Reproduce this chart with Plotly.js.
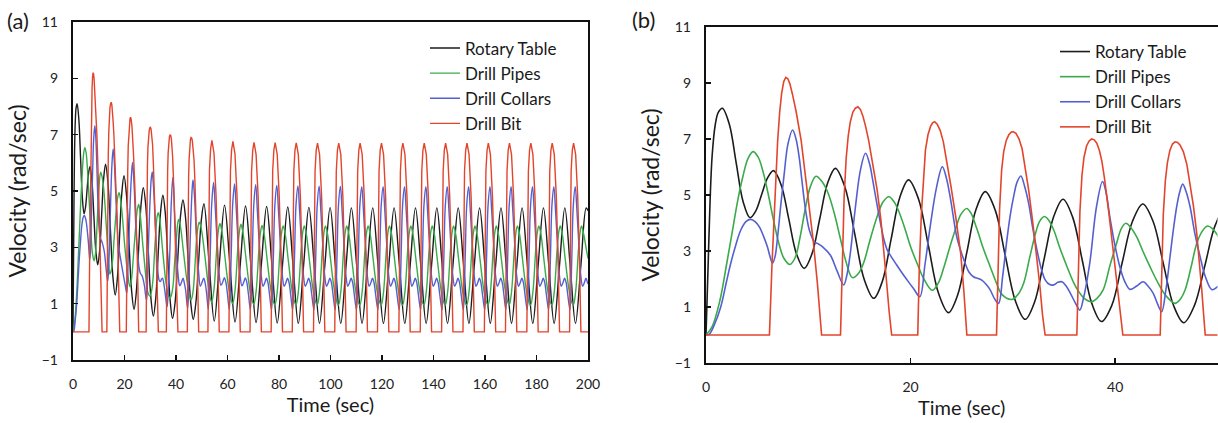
<!DOCTYPE html>
<html>
<head>
<meta charset="utf-8">
<script src="https://cdn.plot.ly/plotly-3.0.1.min.js"></script>
<style>html,body{margin:0;padding:0;background:#fff;}#chart{width:1218px;height:423px;}</style>
</head>
<body>
<div id="chart"></div>
<script>
// ---- Data: [time (sec), velocity (rad/sec)] ----
const seriesNames = ['Rotary Table', 'Drill Pipes', 'Drill Collars', 'Drill Bit'];

const rotaryTable = [
[0,0],[0.2,2.4],[0.4,4.8],[0.6,6.4],[0.9,7.5],[1.2,7.95],[1.6,8.1],[2.28,7.53],[2.95,6.15],[3.63,4.76],[4.3,4.19],[4.88,4.44],[5.45,5.03],[6.03,5.62],[6.6,5.87],[7.35,5.36],[8.1,4.13],[8.85,2.89],[9.6,2.38],[10.36,2.9],[11.13,4.17],[11.89,5.43],[12.65,5.95],[13.59,5.27],[14.53,3.63],[15.46,1.99],[16.4,1.31],[17.25,1.93],[18.1,3.43],[18.95,4.92],[19.8,5.54],[20.78,4.85],[21.75,3.17],[22.73,1.49],[23.7,0.8],[24.6,1.43],[25.5,2.96],[26.4,4.49],[27.3,5.12],[28.28,4.45],[29.25,2.84],[30.23,1.23],[31.2,0.56],[32.13,1.19],[33.05,2.71],[33.98,4.22],[34.9,4.85],[35.84,4.21],[36.78,2.67],[37.72,1.12],[38.66,0.48],[39.67,1.06],[40.68,2.58],[41.69,4.06],[42.7,4.68],[43.7,4.06],[44.7,2.56],[45.7,1.06],[46.7,0.44],[47.74,1.05],[48.78,2.5],[49.81,3.95],[50.85,4.55],
[52.85,2.46],[54.85,0.38],[56.85,2.44],[58.85,4.5],[60.9,2.42],[62.93,0.35],[64.97,2.41],[67.0,4.47],[69.05,2.4],[71.1,0.33],[73.15,2.39],[75.2,4.45],[77.25,2.38],[79.3,0.31],[81.35,2.37],[83.4,4.43],[85.45,2.37],[87.5,0.3],[89.55,2.36],[91.6,4.42],[93.67,2.36],[95.73,0.3],[97.8,2.36],[99.85,4.41],[101.9,2.35],[103.98,0.3],[106.04,2.35],[108.1,4.4],[110.18,2.35],[112.25,0.3],[114.33,2.35],[116.4,4.4],[118.48,2.35],[120.55,0.3],[122.63,2.35],[124.7,4.4],[126.78,2.35],[128.85,0.3],[130.93,2.35],[133.0,4.4],[135.08,2.35],[137.15,0.3],[139.23,2.35],[141.3,4.4],[143.38,2.35],[145.45,0.3],[147.53,2.35],[149.6,4.4],[151.68,2.35],[153.75,0.3],[155.83,2.35],[157.9,4.4],[159.98,2.35],[162.05,0.3],[164.13,2.35],[166.2,4.4],[168.25,2.35],[170.3,0.3],[172.35,2.35],[174.4,4.4],[176.48,2.35],[178.55,0.3],[180.63,2.35],[182.7,4.4],[184.78,2.35],[186.85,0.3],[188.93,2.35],[191.0,4.4],[193.08,2.35],[195.15,0.3],[197.23,2.35],[199.3,4.4],[200,4.3]
];

const drillPipes = [
[0,0],[0.6,0.3],[1.37,1.25],[2.0,2.5],[2.55,3.65],[3.1,4.8],[3.6,5.65],[4.1,6.3],[4.6,6.55],[5.1,6.35],[5.6,5.8],[6.1,5.0],[6.6,4.1],[7.1,3.3],[7.6,2.75],[8.2,2.52],[8.7,2.75],[9.2,3.5],[9.7,4.5],[10.2,5.3],[10.75,5.67],[11.3,5.5],[11.9,5.1],[12.5,4.4],[13.1,3.5],[13.7,2.6],[14.3,2.05],[14.9,2.2],[15.43,2.6],[16.0,3.35],[16.73,4.23],[17.3,4.75],[17.88,4.94],[18.4,4.75],[18.86,4.4],[19.4,3.85],[20.0,3.15],[20.7,2.5],[21.3,2.0],[22.12,1.6],[22.7,1.85],[23.27,2.44],[23.8,3.1],[24.41,3.8],[24.9,4.3],[25.49,4.52],[25.9,4.35],[26.47,3.8],[27.1,3.1],[27.78,2.44],[28.4,1.85],[28.92,1.45],[29.9,1.27],[30.5,1.45],[31.05,1.85],[31.6,2.7],[32.19,3.6],[32.6,4.05],[33.07,4.23],[33.5,4.1],[33.99,3.75],[34.6,3.1],[35.29,2.44],[35.9,1.9],[36.44,1.55],[37.0,1.3],[37.68,1.19],[38.2,1.3],[38.82,1.61],[39.5,2.5],[40.13,3.27],[40.6,3.8],[41.04,3.99],[41.5,3.85],[42.09,3.51],[42.7,3.0],[43.4,2.44],[44.2,1.85],[45.03,1.37],[45.85,1.13],[46.3,1.25],[46.83,1.61],[47.4,2.4],[47.97,3.27],[48.5,3.7],[49.02,3.89],[49.5,3.8],[50.1,3.51],[51.15,2.75],[52.4,1.75],[53.3,1.2],
[53.85,1.05],[54.75,1.5],[55.85,3.0],[56.45,3.6],[57.05,3.85],[57.85,3.55],[58.95,2.7],[60.25,1.7],[61.25,1.2],
[62.0,1.0],[62.9,1.45],[64.0,2.95],[64.6,3.55],[65.2,3.82],[66.0,3.52],[67.1,2.67],[68.4,1.67],[69.4,1.17],
[70.2,0.97],[71.1,1.43],[72.2,2.93],[72.8,3.53],[73.4,3.78],[74.2,3.49],[75.3,2.64],[76.6,1.64],[77.6,1.14],
[78.4,0.95],[79.3,1.42],[80.4,2.92],[81.0,3.52],[81.6,3.76],[82.4,3.48],[83.5,2.63],[84.8,1.63],[85.8,1.13],
[86.6,0.95],[87.5,1.42],[88.6,2.92],[89.2,3.52],[89.8,3.76],[90.6,3.48],[91.7,2.63],[93.0,1.63],[94.0,1.13],
[94.85,0.95],[95.75,1.42],[96.85,2.92],[97.45,3.52],[98.05,3.76],[98.85,3.48],[99.95,2.63],[101.25,1.63],[102.25,1.13],
[103.1,0.95],[104.0,1.42],[105.1,2.92],[105.7,3.52],[106.3,3.76],[107.1,3.48],[108.2,2.63],[109.5,1.63],[110.5,1.13],
[111.4,0.95],[112.3,1.42],[113.4,2.92],[114.0,3.52],[114.6,3.76],[115.4,3.48],[116.5,2.63],[117.8,1.63],[118.8,1.13],
[119.7,0.95],[120.6,1.42],[121.7,2.92],[122.3,3.52],[122.9,3.76],[123.7,3.48],[124.8,2.63],[126.1,1.63],[127.1,1.13],
[128.0,0.95],[128.9,1.42],[130.0,2.92],[130.6,3.52],[131.2,3.76],[132.0,3.48],[133.1,2.63],[134.4,1.63],[135.4,1.13],
[136.3,0.95],[137.2,1.42],[138.3,2.92],[138.9,3.52],[139.5,3.76],[140.3,3.48],[141.4,2.63],[142.7,1.63],[143.7,1.13],
[144.6,0.95],[145.5,1.42],[146.6,2.92],[147.2,3.52],[147.8,3.76],[148.6,3.48],[149.7,2.63],[151.0,1.63],[152.0,1.13],
[152.9,0.95],[153.8,1.42],[154.9,2.92],[155.5,3.52],[156.1,3.76],[156.9,3.48],[158.0,2.63],[159.3,1.63],[160.3,1.13],
[161.2,0.95],[162.1,1.42],[163.2,2.92],[163.8,3.52],[164.4,3.76],[165.2,3.48],[166.3,2.63],[167.6,1.63],[168.6,1.13],
[169.4,0.95],[170.3,1.42],[171.4,2.92],[172.0,3.52],[172.6,3.76],[173.4,3.48],[174.5,2.63],[175.8,1.63],[176.8,1.13],
[177.7,0.95],[178.6,1.42],[179.7,2.92],[180.3,3.52],[180.9,3.76],[181.7,3.48],[182.8,2.63],[184.1,1.63],[185.1,1.13],
[186.0,0.95],[186.9,1.42],[188.0,2.92],[188.6,3.52],[189.2,3.76],[190.0,3.48],[191.1,2.63],[192.4,1.63],[193.4,1.13],
[194.3,0.95],[195.2,1.42],[196.3,2.92],[196.9,3.52],[197.5,3.76],[198.3,3.48],[199.4,2.9],[200,2.6]
];

const drillCollars = [
[0,0],[0.3,0.02],[0.8,0.35],[1.44,1.0],[2.0,1.9],[2.42,2.56],[2.9,3.2],[3.4,3.75],[3.9,4.05],[4.38,4.13],[4.8,4.05],[5.2,3.87],[5.6,3.55],[6.0,3.15],[6.3,2.75],[6.5,2.56],[6.75,2.8],[7.0,3.51],[7.3,4.6],[7.65,5.77],[8.0,6.8],[8.46,7.32],[8.8,7.0],[9.1,6.37],[9.35,5.6],[9.6,4.82],[9.85,4.2],[10.1,3.75],[10.59,3.33],[11.0,3.25],[11.4,3.15],[12.16,2.85],[12.8,2.3],[13.46,1.79],[13.75,2.1],[14.1,2.9],[14.61,4.58],[15.1,5.9],[15.59,6.49],[16.0,6.1],[16.24,5.65],[16.65,4.8],[17.06,3.99],[17.4,3.4],[17.71,3.04],[18.1,2.8],[18.53,2.56],[19.1,2.25],[19.67,1.96],[20.3,1.65],[20.9,1.37],[21.4,2.5],[21.96,3.99],[22.55,5.3],[23.1,6.01],[23.5,5.6],[23.92,4.82],[24.51,3.51],[25.0,2.9],[25.33,2.56],[25.7,2.25],[26.14,2.08],[26.6,2.02],[26.96,1.96],[27.4,1.8],[27.78,1.61],[28.2,1.3],[28.6,1.13],[29.0,2.1],[29.41,3.39],[29.75,4.3],[30.07,4.94],[30.4,5.45],[30.78,5.68],[31.15,5.3],[31.54,4.7],[31.95,3.8],[32.35,3.04],[32.75,2.4],[33.17,1.96],[33.6,1.8],[33.99,1.79],[34.4,1.88],[34.8,1.9],[35.2,1.75],[35.62,1.49],[36.1,1.15],[36.54,0.89],[36.86,1.25],[37.51,2.56],[38.17,4.58],[38.76,5.48],[39.1,5.1],[39.47,4.23],[39.95,3.25],[40.45,2.44],[40.95,1.9],[41.44,1.63],[42.1,1.75],[42.74,1.9],[43.2,1.75],[43.72,1.49],[44.15,1.1],[44.54,0.83],[44.95,1.6],[45.36,2.8],[45.7,3.8],[46.01,4.58],[46.3,5.1],[46.6,5.39],[46.95,5.1],[47.32,4.58],[47.8,3.6],[48.3,2.8],[48.8,2.1],[49.45,1.62],[50.1,1.75],[50.75,1.9],[51.3,1.75],[51.85,1.4],[52.55,0.8],
[53.25,2.6],[53.85,4.5],[54.6,5.3],[55.25,4.4],[56.05,3.05],[56.75,2.05],[57.45,1.65],[58.15,1.77],[58.75,1.92],[59.35,1.77],[59.95,1.37],
[60.7,0.79],[61.4,2.6],[62.0,4.5],[62.75,5.25],[63.4,4.35],[64.2,3.0],[64.9,2.0],[65.6,1.63],[66.3,1.76],[66.9,1.91],[67.5,1.76],[68.1,1.36],
[68.9,0.78],[69.6,2.6],[70.2,4.5],[70.95,5.22],[71.6,4.3],[72.4,3.0],[73.1,2.0],[73.8,1.62],[74.5,1.75],[75.1,1.9],[75.7,1.75],[76.3,1.35],
[77.1,0.78],[77.8,2.6],[78.4,4.5],[79.15,5.2],[79.8,4.3],[80.6,3.0],[81.3,2.0],[82.0,1.62],[82.7,1.75],[83.3,1.9],[83.9,1.75],[84.5,1.35],
[85.3,0.78],[86.0,2.6],[86.6,4.5],[87.35,5.18],[88.0,4.3],[88.8,3.0],[89.5,2.0],[90.2,1.62],[90.9,1.75],[91.5,1.9],[92.1,1.75],[92.7,1.35],
[93.55,0.78],[94.25,2.6],[94.85,4.5],[95.6,5.17],[96.25,4.3],[97.05,3.0],[97.75,2.0],[98.45,1.62],[99.15,1.75],[99.75,1.9],[100.35,1.75],[100.95,1.35],
[101.8,0.78],[102.5,2.6],[103.1,4.5],[103.85,5.16],[104.5,4.3],[105.3,3.0],[106.0,2.0],[106.7,1.62],[107.4,1.75],[108.0,1.9],[108.6,1.75],[109.2,1.35],
[110.1,0.78],[110.8,2.6],[111.4,4.5],[112.15,5.15],[112.8,4.3],[113.6,3.0],[114.3,2.0],[115.0,1.62],[115.7,1.75],[116.3,1.9],[116.9,1.75],[117.5,1.35],
[118.4,0.78],[119.1,2.6],[119.7,4.5],[120.45,5.15],[121.1,4.3],[121.9,3.0],[122.6,2.0],[123.3,1.62],[124.0,1.75],[124.6,1.9],[125.2,1.75],[125.8,1.35],
[126.7,0.78],[127.4,2.6],[128.0,4.5],[128.75,5.15],[129.4,4.3],[130.2,3.0],[130.9,2.0],[131.6,1.62],[132.3,1.75],[132.9,1.9],[133.5,1.75],[134.1,1.35],
[135.0,0.78],[135.7,2.6],[136.3,4.5],[137.05,5.15],[137.7,4.3],[138.5,3.0],[139.2,2.0],[139.9,1.62],[140.6,1.75],[141.2,1.9],[141.8,1.75],[142.4,1.35],
[143.3,0.78],[144.0,2.6],[144.6,4.5],[145.35,5.15],[146.0,4.3],[146.8,3.0],[147.5,2.0],[148.2,1.62],[148.9,1.75],[149.5,1.9],[150.1,1.75],[150.7,1.35],
[151.6,0.78],[152.3,2.6],[152.9,4.5],[153.65,5.15],[154.3,4.3],[155.1,3.0],[155.8,2.0],[156.5,1.62],[157.2,1.75],[157.8,1.9],[158.4,1.75],[159.0,1.35],
[159.9,0.78],[160.6,2.6],[161.2,4.5],[161.95,5.15],[162.6,4.3],[163.4,3.0],[164.1,2.0],[164.8,1.62],[165.5,1.75],[166.1,1.9],[166.7,1.75],[167.3,1.35],
[168.1,0.78],[168.8,2.6],[169.4,4.5],[170.15,5.15],[170.8,4.3],[171.6,3.0],[172.3,2.0],[173.0,1.62],[173.7,1.75],[174.3,1.9],[174.9,1.75],[175.5,1.35],
[176.4,0.78],[177.1,2.6],[177.7,4.5],[178.45,5.15],[179.1,4.3],[179.9,3.0],[180.6,2.0],[181.3,1.62],[182.0,1.75],[182.6,1.9],[183.2,1.75],[183.8,1.35],
[184.7,0.78],[185.4,2.6],[186.0,4.5],[186.75,5.15],[187.4,4.3],[188.2,3.0],[188.9,2.0],[189.6,1.62],[190.3,1.75],[190.9,1.9],[191.5,1.75],[192.1,1.35],
[193.0,0.78],[193.7,2.6],[194.3,4.5],[195.05,5.15],[195.7,4.3],[196.5,3.0],[197.2,2.0],[197.9,1.62],[198.6,1.75],[199.2,1.9],[199.8,1.75],[200,1.7]
];

const drillBit = [
[0,0],[6.2,0],[6.45,2.5],[6.75,5.0],[7.0,6.9],[7.2,7.95],[7.4,8.65],[7.6,9.05],[7.8,9.2],[8.0,9.15],[8.2,8.97],[8.45,8.6],[8.8,8.0],[9.3,6.95],[9.9,5.2],[10.5,3.3],[10.9,1.8],[11.15,0.6],[11.3,0],
[13.15,0],[13.3,2.6],[13.5,4.9],[13.7,6.3],[13.9,7.1],[14.1,7.6],[14.35,7.95],[14.6,8.1],[14.85,8.15],[15.1,8.05],[15.35,7.8],[15.6,7.45],[15.9,6.95],[16.25,6.2],[16.73,5.18],[17.1,4.1],[17.39,3.04],[17.65,1.9],[17.9,0.85],[18.15,0],
[20.7,0],[20.85,2.4],[21.05,4.3],[21.25,5.7],[21.45,6.6],[21.7,7.15],[21.95,7.45],[22.15,7.58],[22.35,7.62],[22.6,7.53],[22.9,7.3],[23.2,6.9],[23.5,6.3],[23.95,5.3],[24.41,4.23],[24.9,2.9],[25.2,1.6],[25.5,0],
[28.4,0],[28.55,2.6],[28.7,4.5],[28.9,5.9],[29.1,6.55],[29.35,6.95],[29.6,7.15],[29.85,7.25],[30.05,7.26],[30.3,7.2],[30.6,7.0],[30.9,6.65],[31.2,6.0],[31.54,5.18],[31.95,4.0],[32.35,2.8],[32.65,1.7],[32.9,0.7],[33.15,0],
[36.25,0],[36.4,2.5],[36.55,4.4],[36.75,5.7],[36.95,6.35],[37.2,6.75],[37.45,6.93],[37.7,7.0],[37.95,6.97],[38.2,6.85],[38.45,6.6],[38.7,6.2],[38.95,5.6],[39.4,4.3],[39.9,2.7],[40.35,1.2],[40.75,0],
[44.4,0],[44.55,2.5],[44.7,4.3],[44.9,5.5],[45.1,6.15],[45.35,6.6],[45.6,6.82],[45.85,6.9],[46.1,6.88],[46.35,6.78],[46.66,6.55],[47.0,6.1],[47.32,5.42],[47.65,4.6],[47.97,3.63],[48.25,2.6],[48.46,1.61],[48.65,0.7],[48.8,0],
[52.4,0],[52.65,3.6],[53.0,5.75],[53.45,6.5],[53.95,6.8],[54.75,6.35],[55.55,4.85],[56.25,2.5],[56.8,0],
[60.55,0],[60.8,3.6],[61.15,5.72],[61.6,6.47],[62.1,6.76],[62.9,6.32],[63.7,4.82],[64.4,2.5],[64.95,0],
[68.75,0],[69.0,3.6],[69.35,5.7],[69.8,6.45],[70.3,6.73],[71.1,6.3],[71.9,4.8],[72.6,2.5],[73.15,0],
[76.95,0],[77.2,3.6],[77.55,5.7],[78.0,6.45],[78.5,6.72],[79.3,6.3],[80.1,4.8],[80.8,2.5],[81.35,0],
[85.15,0],[85.4,3.6],[85.75,5.7],[86.2,6.45],[86.7,6.71],[87.5,6.3],[88.3,4.8],[89.0,2.5],[89.55,0],
[93.4,0],[93.65,3.6],[94.0,5.7],[94.45,6.45],[94.95,6.7],[95.75,6.3],[96.55,4.8],[97.25,2.5],[97.8,0],
[101.65,0],[101.9,3.6],[102.25,5.7],[102.7,6.45],[103.2,6.7],[104.0,6.3],[104.8,4.8],[105.5,2.5],[106.05,0],
[109.95,0],[110.2,3.6],[110.55,5.7],[111.0,6.45],[111.5,6.7],[112.3,6.3],[113.1,4.8],[113.8,2.5],[114.35,0],
[118.25,0],[118.5,3.6],[118.85,5.7],[119.3,6.45],[119.8,6.7],[120.6,6.3],[121.4,4.8],[122.1,2.5],[122.65,0],
[126.55,0],[126.8,3.6],[127.15,5.7],[127.6,6.45],[128.1,6.7],[128.9,6.3],[129.7,4.8],[130.4,2.5],[130.95,0],
[134.85,0],[135.1,3.6],[135.45,5.7],[135.9,6.45],[136.4,6.7],[137.2,6.3],[138.0,4.8],[138.7,2.5],[139.25,0],
[143.15,0],[143.4,3.6],[143.75,5.7],[144.2,6.45],[144.7,6.7],[145.5,6.3],[146.3,4.8],[147.0,2.5],[147.55,0],
[151.45,0],[151.7,3.6],[152.05,5.7],[152.5,6.45],[153.0,6.7],[153.8,6.3],[154.6,4.8],[155.3,2.5],[155.85,0],
[159.75,0],[160.0,3.6],[160.35,5.7],[160.8,6.45],[161.3,6.7],[162.1,6.3],[162.9,4.8],[163.6,2.5],[164.15,0],
[167.95,0],[168.2,3.6],[168.55,5.7],[169.0,6.45],[169.5,6.7],[170.3,6.3],[171.1,4.8],[171.8,2.5],[172.35,0],
[176.25,0],[176.5,3.6],[176.85,5.7],[177.3,6.45],[177.8,6.7],[178.6,6.3],[179.4,4.8],[180.1,2.5],[180.65,0],
[184.55,0],[184.8,3.6],[185.15,5.7],[185.6,6.45],[186.1,6.7],[186.9,6.3],[187.7,4.8],[188.4,2.5],[188.95,0],
[192.85,0],[193.1,3.6],[193.45,5.7],[193.9,6.45],[194.4,6.7],[195.2,6.3],[196.0,4.8],[196.7,2.5],[197.25,0],
[200,0]
];

const xTicksA = [0, 20, 40, 60, 80, 100, 120, 140, 160, 180, 200];
const xTicksB = [0, 20, 40];
const yTicks = [-1, 1, 3, 5, 7, 9, 11];

// ---- Styling ----
const colors = ['#1c1c1c', '#3aaa4a', '#5560d0', '#e2452c'];
const shapes = ['spline', 'spline', 'spline', 'linear'];
const allSeries = [rotaryTable, drillPipes, drillCollars, drillBit];

const W = 1218, H = 423;
const traces = [];
[['x', 'y', 'legend', 1.4], ['x2', 'y2', 'legend2', 1.6]].forEach(([xa, ya, lg, lw]) => {
  allSeries.forEach((s, i) => {
    traces.push({
      type: 'scatter', mode: 'lines', name: seriesNames[i],
      x: s.map(p => p[0]), y: s.map(p => p[1]),
      xaxis: xa, yaxis: ya, legend: lg,
      line: {color: colors[i], width: lw, shape: shapes[i]},
      hoverinfo: 'skip'
    });
  });
});

const axisCommon = {
  showline: true, linewidth: 2.2, linecolor: '#111', mirror: true,
  showgrid: false, zeroline: false,
  ticks: 'inside', ticklen: 5, tickwidth: 1.5, tickcolor: '#111',
  tickfont: {size: 14, color: '#222'},
  ticklabelstandoff: 10,
  fixedrange: true
};

const layout = {
  width: W, height: H,
  margin: {l: 0, r: 0, t: 0, b: 0},
  paper_bgcolor: '#fff', plot_bgcolor: '#fff',
  font: {family: 'Lato, "Open Sans", sans-serif', color: '#1a1a1a'},
  xaxis: Object.assign({}, axisCommon, {
    domain: [73 / W, 588 / W], range: [0, 200], anchor: 'y',
    tickmode: 'array', tickvals: xTicksA,
    title: {text: 'Time (sec)', font: {size: 20, color: '#1a1a1a'}, standoff: 7}
  }),
  yaxis: Object.assign({}, axisCommon, {
    domain: [63 / H, 401 / H], range: [-1, 11], anchor: 'x',
    tickmode: 'array', tickvals: yTicks,
    title: {text: 'Velocity (rad/sec)', font: {size: 23, color: '#1a1a1a'}, standoff: 9}
  }),
  xaxis2: Object.assign({}, axisCommon, {
    domain: [706 / W, 1217.5 / W], range: [0, 50], anchor: 'y2',
    tickmode: 'array', tickvals: xTicksB,
    title: {text: 'Time (sec)', font: {size: 20, color: '#1a1a1a'}, standoff: 7}
  }),
  yaxis2: Object.assign({}, axisCommon, {
    domain: [60 / H, 396 / H], range: [-1, 11], anchor: 'x2',
    tickmode: 'array', tickvals: yTicks,
    title: {text: 'Velocity (rad/sec)', font: {size: 23, color: '#1a1a1a'}, standoff: 9}
  }),
  showlegend: true,
  legend: {
    x: 425 / W, y: 1 - 30.5 / H, xanchor: 'left', yanchor: 'top',
    bgcolor: 'rgba(255,255,255,0)', borderwidth: 0,
    font: {size: 17, color: '#1a1a1a'}, tracegroupgap: 0
  },
  legend2: {
    x: 1055 / W, y: 1 - 34 / H, xanchor: 'left', yanchor: 'top',
    bgcolor: 'rgba(255,255,255,0)', borderwidth: 0,
    font: {size: 17, color: '#1a1a1a'}, tracegroupgap: 0
  },
  annotations: [
    {text: '(a)', xref: 'paper', yref: 'paper', x: 5 / W, y: 1 - 21 / H, xanchor: 'left', yanchor: 'middle', showarrow: false, font: {size: 22, color: '#1a1a1a'}},
    {text: '(b)', xref: 'paper', yref: 'paper', x: 630 / W, y: 1 - 20 / H, xanchor: 'left', yanchor: 'middle', showarrow: false, font: {size: 22, color: '#1a1a1a'}}
  ]
};

Plotly.newPlot('chart', traces, layout, {displayModeBar: false, staticPlot: true});
</script>
</body>
</html>
